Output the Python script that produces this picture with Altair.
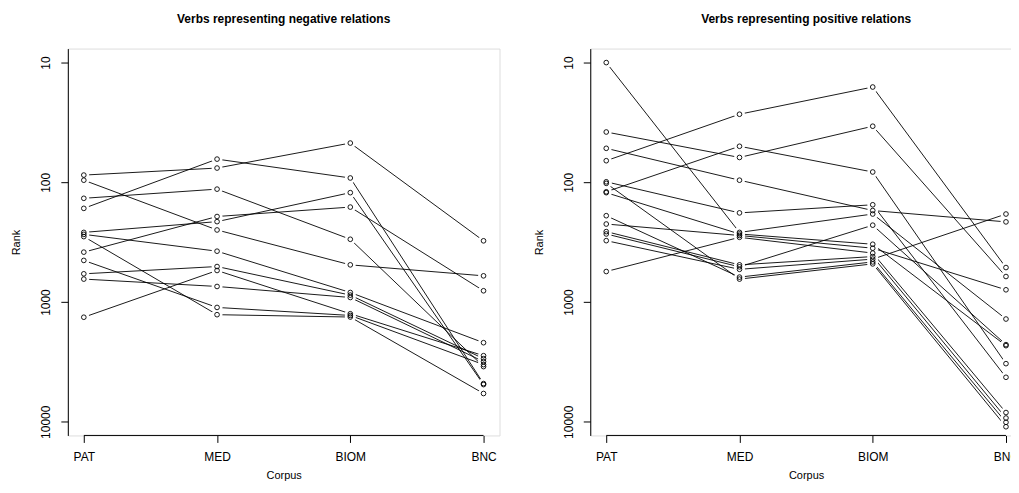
import altair as alt
import pandas as pd

corpora = ["PAT", "MED", "BIOM", "BNC"]

# Verbs representing negative relations (rank per corpus, one entry per verb)
neg_pat = [87, 96, 136, 165, 262, 272, 284, 383, 449, 581, 643, 1339]
neg_med = [76, 250, 114, 64, 213, 376, 1275, 193, 1109, 505, 741, 545]
neg_biom = [47, 489, 299, 92, 122, 832, 1334, 161, 1294, 875, 916, 1252]
neg_bnc = [308, 604, 3460, 4795, 4890, 2185, 5805, 805, 3330, 2970, 3145, 2805]

# Verbs representing positive relations
pos_pat = [10, 38, 52, 66, 99, 102, 120, 122, 190, 223, 258, 270, 307, 556]
pos_med = [262, 62, 96, 27, 180, 643, 50, 270, 619, 278, 489, 508, 533, 288]
pos_biom = [184, 34, 172, 16, 154, 480, 82, 329, 462, 355, 417, 228, 438, 390]
pos_bnc = [1386, 612, 214, 515, 4250, 11000, 3269, 2313, 10100, 790, 9300, 2268, 184, 8370]

y_ticks = [10, 100, 1000, 10000]

FONT = "Liberation Sans"


def build_df(series):
    rows = []
    for i in range(len(series[0])):
        for j, c in enumerate(corpora):
            rows.append({"verb": i, "idx": j + 1, "corpus": c, "rank": series[j][i]})
    return pd.DataFrame(rows)


label_expr = " : ".join(
    [f"datum.value == {j + 1} ? '{c}'" for j, c in enumerate(corpora[:-1])]
) + f" : '{corpora[-1]}'"

W, H = 433, 388


def panel(df, title):
    x = alt.X(
        "idx:Q",
        scale=alt.Scale(domain=[0.88, 4.12], nice=False, zero=False),
        axis=alt.Axis(
            values=[1, 2, 3, 4], labelExpr=label_expr, domain=False, grid=False,
            tickSize=7, tickColor="#000", tickWidth=1, labelPadding=9,
            labelFontSize=12, labelFont=FONT, labelColor="#000",
            title="Corpus", titleFontSize=11, titleFont=FONT, titleFontWeight="normal",
            titleColor="#000", titleY=43, titleBaseline="alphabetic", titleAlign="center",
        ),
    )
    y = alt.Y(
        "rank:Q",
        scale=alt.Scale(type="log", domain=[7.64, 13000], reverse=True, nice=False),
        axis=alt.Axis(
            values=y_ticks, format="d", grid=False, labelAngle=270,
            labelAlign="center", labelBaseline="bottom",
            tickSize=7, tickColor="#000", tickWidth=1, labelPadding=8,
            labelFontSize=12, labelFont=FONT, labelColor="#000",
            domainColor="#000", domainWidth=1,
            title="Rank", titleFontSize=11, titleFont=FONT, titleFontWeight="normal",
            titleColor="#000", titleAngle=270, titleX=-51, titleY=H / 2,
            titleBaseline="middle", titleAlign="center",
        ),
    )
    base = alt.Chart(df)
    lines = base.mark_line(color="#000", strokeWidth=0.9).encode(
        x=x, y=y, detail="verb:N", order="idx:Q"
    )
    halo = base.mark_point(filled=True, color="white", size=120, opacity=1, strokeWidth=0).encode(
        x="idx:Q", y="rank:Q"
    )
    pts = base.mark_point(filled=False, color="#000", size=22, strokeWidth=0.9, opacity=1).encode(
        x="idx:Q", y="rank:Q"
    )
    axis_line = alt.Chart(pd.DataFrame({"a": [1], "b": [4]})).mark_rule(
        color="#000", strokeWidth=1
    ).encode(x="a:Q", x2="b:Q", y=alt.value(H))
    return alt.layer(lines, halo, pts, axis_line).properties(
        width=W, height=H,
        title=alt.TitleParams(
            title, fontSize=12, fontWeight="bold", font=FONT, color="#000",
            anchor="middle", baseline="alphabetic", offset=14, frame="group",
        ),
    )


left = panel(build_df([neg_pat, neg_med, neg_biom, neg_bnc]), "Verbs representing negative relations")
right = panel(build_df([pos_pat, pos_med, pos_biom, pos_bnc]), "Verbs representing positive relations")

chart = alt.hconcat(left, right, spacing=91, bounds="flush").properties(
    padding={"left": 2, "top": 3, "right": -12, "bottom": 0}
).configure_view(stroke=None).configure(font=FONT)

chart.save("out.html", embed_options={"renderer": "svg", "actions": False})
